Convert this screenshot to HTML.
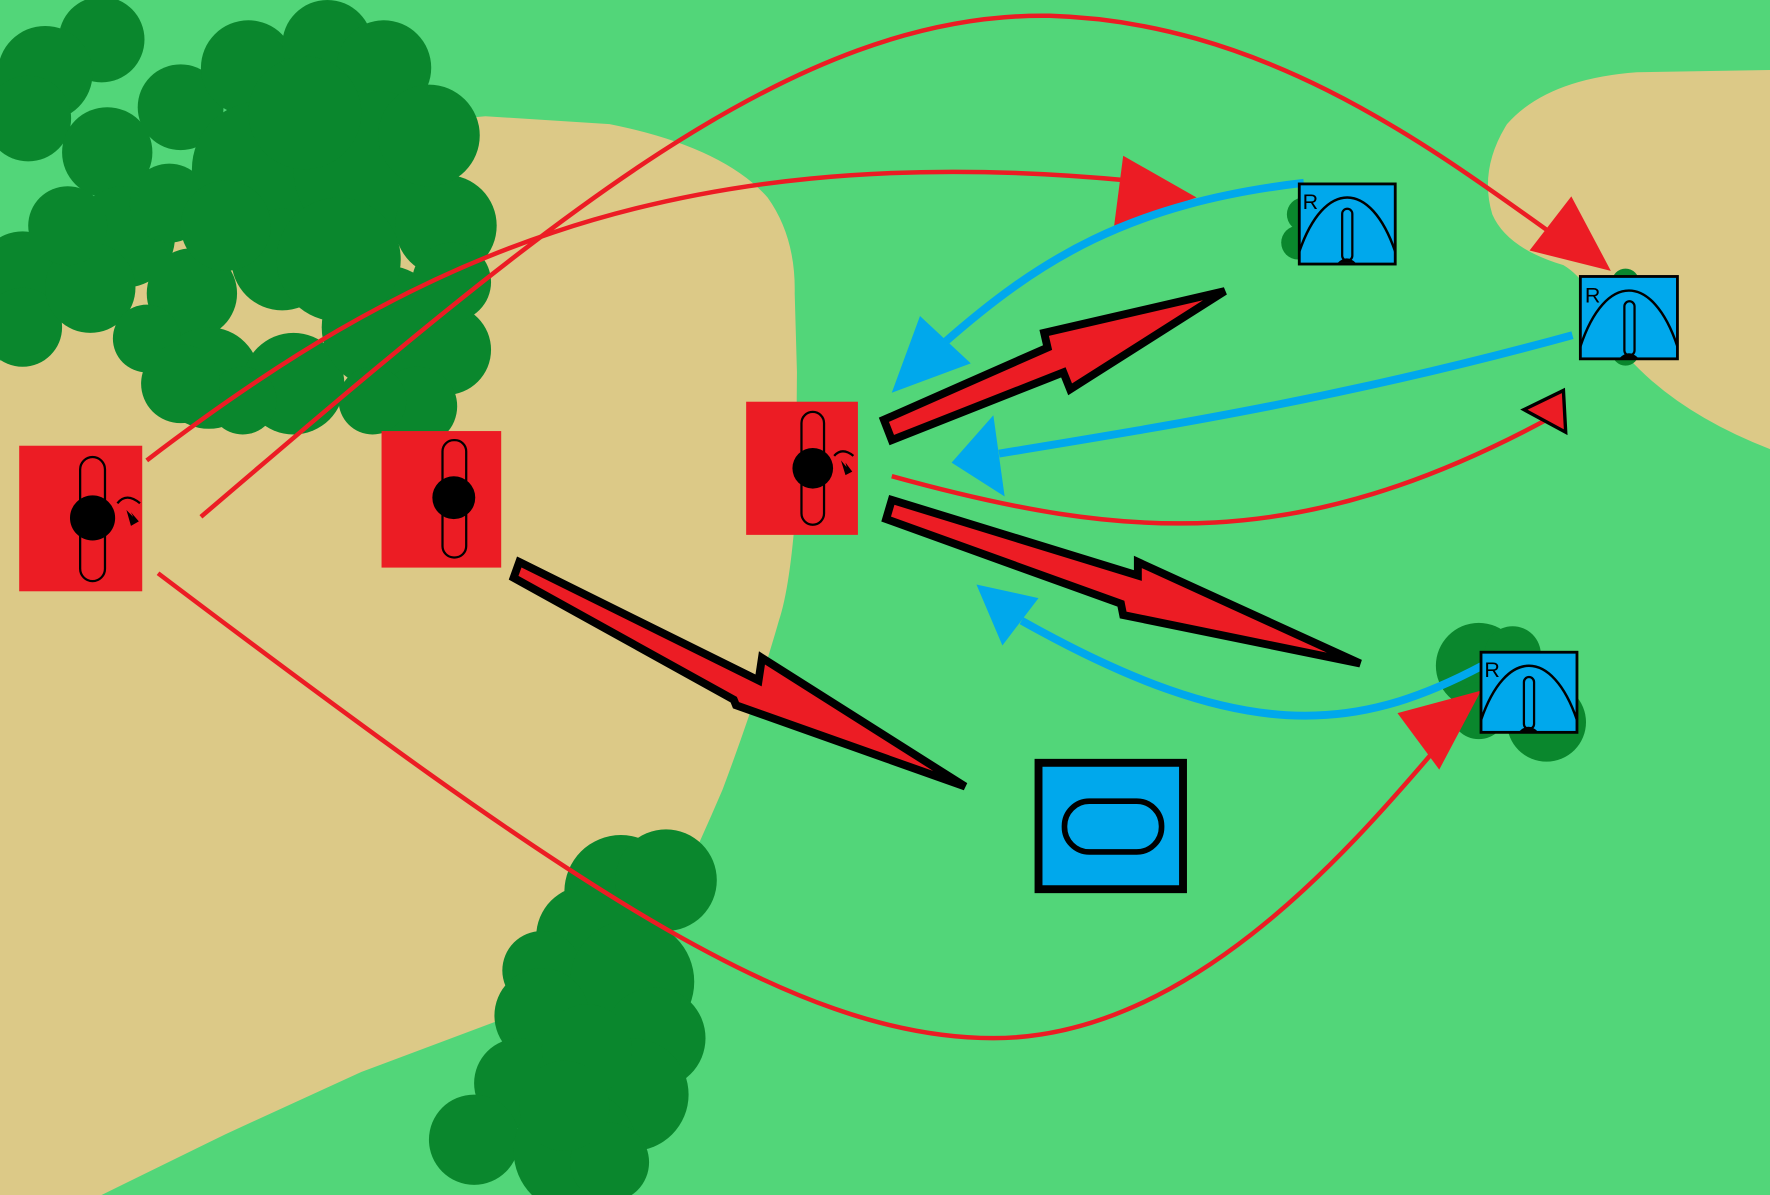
<!DOCTYPE html>
<html><head><meta charset="utf-8"><style>html,body{margin:0;padding:0;overflow:hidden;background:#52d679}svg{display:block}</style></head>
<body>
<svg width="1770" height="1195" viewBox="0 0 1568 1059" preserveAspectRatio="none" xmlns="http://www.w3.org/2000/svg">
<rect width="1568" height="1059" fill="#52d679"/>
<!-- tan left -->
<path d="M0 320 L60 260 L190 150 L300 115 L430 103 L540 110 Q640 130 680 175 Q705 210 704 260 L706 330 L705 450 Q700 520 690 550 Q670 620 640 700 Q610 770 580 830 L560 880 L440 905 L320 950 L200 1005 L90 1059 L0 1059 Z" fill="#dcc987"/>
<!-- tan right -->
<path d="M1568 62 L1450 64 Q1370 70 1335 110 Q1310 150 1322 190 Q1335 220 1385 235 Q1410 250 1425 295 Q1470 360 1568 398 Z" fill="#dcc987"/>
<!-- trees top-left -->
<g fill="#0a872d">
<circle cx="90" cy="35" r="38"/><circle cx="40" cy="65" r="42"/><circle cx="25" cy="105" r="38"/>
<circle cx="20" cy="245" r="40"/><circle cx="20" cy="290" r="35"/><circle cx="95" cy="135" r="40"/>
<circle cx="110" cy="210" r="45"/><circle cx="80" cy="255" r="40"/><circle cx="160" cy="95" r="38"/>
<circle cx="220" cy="60" r="42"/><circle cx="290" cy="40" r="40"/><circle cx="340" cy="60" r="42"/>
<circle cx="230" cy="150" r="60"/><circle cx="330" cy="150" r="70"/><circle cx="395" cy="200" r="45"/>
<circle cx="380" cy="120" r="45"/><circle cx="170" cy="260" r="40"/><circle cx="250" cy="230" r="45"/>
<circle cx="185" cy="335" r="45"/><circle cx="260" cy="340" r="45"/><circle cx="340" cy="290" r="55"/>
<circle cx="395" cy="310" r="40"/><circle cx="370" cy="360" r="35"/><circle cx="215" cy="355" r="30"/>
<circle cx="150" cy="180" r="35"/><circle cx="300" cy="230" r="55"/><circle cx="330" cy="355" r="30"/>
<circle cx="270" cy="100" r="50"/><circle cx="200" cy="200" r="40"/><circle cx="60" cy="200" r="35"/>
<circle cx="130" cy="300" r="30"/><circle cx="400" cy="250" r="35"/><circle cx="160" cy="340" r="35"/>
</g>
<!-- trees bottom -->
<g fill="#0a872d">
<circle cx="550" cy="790" r="50"/><circle cx="590" cy="780" r="45"/><circle cx="520" cy="830" r="45"/>
<circle cx="480" cy="860" r="35"/><circle cx="560" cy="870" r="55"/><circle cx="480" cy="900" r="42"/>
<circle cx="580" cy="920" r="45"/><circle cx="460" cy="960" r="40"/><circle cx="560" cy="970" r="50"/>
<circle cx="420" cy="1010" r="40"/><circle cx="510" cy="1020" r="55"/><circle cx="540" cy="1030" r="35"/>
<circle cx="520" cy="930" r="40"/><circle cx="500" cy="980" r="40"/>
</g>
<!-- small trees around blue units -->
<g fill="#0a872d">
<circle cx="1155" cy="190" r="15"/><circle cx="1150" cy="215" r="15"/>
<circle cx="1440" cy="250" r="12"/><circle cx="1440" cy="312" r="12"/>
<circle cx="1310" cy="590" r="38"/><circle cx="1340" cy="580" r="25"/><circle cx="1370" cy="640" r="35"/><circle cx="1310" cy="630" r="25"/>
</g>
<!-- thin red lines -->
<g fill="none" stroke="#ec1c24" stroke-width="4">
<path d="M130 408 C 350 240, 580 120, 1000 160"/>
<path d="M178 458 C 480 200, 700 10, 930 14 C 1130 20, 1280 140, 1400 225"/>
<path d="M140 508 C 500 780, 700 920, 880 920 C 1050 920, 1190 760, 1275 660"/>
<path d="M790 422 C 1000 480, 1150 490, 1370 372"/>
</g>
<polygon points="995,138 1060,175 987,200" fill="#ec1c24"/>
<polygon points="1355,222 1392,174 1427,240" fill="#ec1c24"/>
<polygon points="1238,632 1312,612 1275,682" fill="#ec1c24"/>
<polygon points="1350,363 1385,346 1387,383" fill="#ec1c24" stroke="#000" stroke-width="3"/>
<!-- thick red arrows -->
<g fill="#ec1c24" stroke="#000" stroke-width="7" stroke-linejoin="miter">
<polygon points="460,498 672,603 675,583 855,697 652,625 650,620 455,512"/>
<polygon points="783,372 928,308 925,295 1085,258 948,345 942,330 790,390"/>
<polygon points="790,443 1008,510 1008,498 1205,588 995,545 993,535 785,460"/>
</g>
<!-- blue lines -->
<g fill="none" stroke="#00a8ec" stroke-width="7">
<path d="M1155 162 C 1000 180, 920 230, 835 305"/>
<path d="M1393 297 C 1200 350, 1050 375, 885 402"/>
<path d="M1313 590 C 1200 650, 1100 660, 905 550"/>
</g>
<polygon points="815,280 860,322 790,348" fill="#00a8ec"/>
<polygon points="880,368 890,440 843,410" fill="#00a8ec"/>
<polygon points="920,530 888,572 865,518" fill="#00a8ec"/>
<!-- red units -->
<g>
<rect x="17" y="395" width="109" height="129" fill="#ec1c24"/>
<rect x="71" y="405" width="22" height="110" rx="11" fill="none" stroke="#000" stroke-width="2"/>
<circle cx="82" cy="459" r="20" fill="#000"/>
<path d="M104 446 Q112 436 124 446" fill="none" stroke="#000" stroke-width="2"/>
<path d="M112 452 L118 458 L116 454 L123 462 L116 466 Z" fill="#000"/>
<rect x="338" y="382" width="106" height="121" fill="#ec1c24"/>
<rect x="392" y="390" width="21" height="104" rx="10" fill="none" stroke="#000" stroke-width="2"/>
<circle cx="402" cy="441" r="19" fill="#000"/>
<rect x="661" y="356" width="99" height="118" fill="#ec1c24"/>
<rect x="710" y="365" width="20" height="100" rx="10" fill="none" stroke="#000" stroke-width="2"/>
<circle cx="720" cy="415" r="18" fill="#000"/>
<path d="M739 404 Q746 396 756 404" fill="none" stroke="#000" stroke-width="2"/>
<path d="M745 408 L750 414 L749 410 L755 418 L749 421 Z" fill="#000"/>
</g>
<!-- blue units -->
<g font-family="Liberation Sans, sans-serif" font-size="19" fill="#000">
<g transform="translate(1151,163)">
<rect width="85" height="71" fill="#00a8ec" stroke="#000" stroke-width="2.5"/>
<path d="M0 60 C 22 -4, 63 -4, 85 60" fill="none" stroke="#000" stroke-width="2.2"/>
<rect x="38" y="22" width="9" height="46" rx="4.5" fill="none" stroke="#000" stroke-width="2"/>
<path d="M34 70 Q42 62 50 70 Z" fill="#000"/>
<text x="3" y="22">R</text></g>
<g transform="translate(1400,245)">
<rect width="86" height="73" fill="#00a8ec" stroke="#000" stroke-width="2.5"/>
<path d="M0 62 C 22 -4, 64 -4, 86 62" fill="none" stroke="#000" stroke-width="2.2"/>
<rect x="39" y="22" width="9" height="48" rx="4.5" fill="none" stroke="#000" stroke-width="2"/>
<path d="M35 72 Q43 64 51 72 Z" fill="#000"/>
<text x="4" y="23">R</text></g>
<g transform="translate(1312,578)">
<rect width="85" height="71" fill="#00a8ec" stroke="#000" stroke-width="2.5"/>
<path d="M0 60 C 22 -4, 63 -4, 85 60" fill="none" stroke="#000" stroke-width="2.2"/>
<rect x="38" y="22" width="9" height="46" rx="4.5" fill="none" stroke="#000" stroke-width="2"/>
<path d="M34 70 Q42 62 50 70 Z" fill="#000"/>
<text x="3" y="22">R</text></g>
</g>
<rect x="920" y="676" width="128" height="112" fill="#00a8ec" stroke="#000" stroke-width="7"/>
<rect x="943" y="710" width="86" height="45" rx="22" fill="none" stroke="#000" stroke-width="5"/>
</svg>
</body></html>
